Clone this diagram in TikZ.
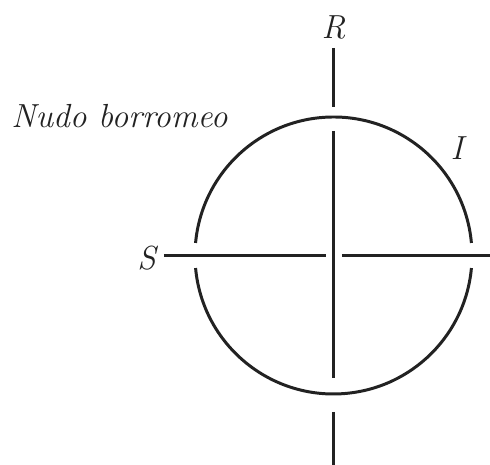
\documentclass[tikz,border=0pt]{standalone}
\usepackage{tikz}
\definecolor{ink}{HTML}{222222}

\begin{document}
\begin{tikzpicture}[
  ring/.style={draw=ink, line width=1.7pt},
  bar/.style={draw=ink, line width=1.3pt},
  lbl/.style={font=\fontsize{19}{23}\selectfont\itshape, text=ink, inner sep=0pt}]
\useasboundingbox (0,0) rectangle (9.8,9.3);
\coordinate (c) at (6.67,4.19);
% vertical line (R), broken where the ring crosses it
\coordinate (r1) at (6.67,8.34); \coordinate (r2) at (6.67,7.16);
\coordinate (r3) at (6.67,6.68); \coordinate (r4) at (6.67,1.74);
\coordinate (r5) at (6.67,1.06); \coordinate (r6) at (6.67,0);
% horizontal line (S), broken at the centre
\coordinate (s1) at (3.28,4.19); \coordinate (s2) at (6.52,4.19);
\coordinate (s3) at (6.84,4.19); \coordinate (s4) at (9.8,4.19);
\draw[bar] (r1) -- (r2) (r3) -- (r4) (r5) -- (r6);
\draw[bar] (s1) -- (s2) (s3) -- (s4);
% ring (I), broken where the horizontal line passes
\draw[ring] (c) ++(5.2:2.77) arc[start angle=5.2, end angle=174.8, radius=2.77];
\draw[ring] (c) ++(185.2:2.77) arc[start angle=185.2, end angle=354.8, radius=2.77];
\node[lbl] (lr) at (6.67,8.76) {R};
\node[lbl] (ls) at (2.93,4.14) {S};
\node[lbl] (li) at (9.14,6.33) {I};
\node[lbl, anchor=base west] (title) at (0.22,6.74) {Nudo borromeo};
\end{tikzpicture}
\end{document}
